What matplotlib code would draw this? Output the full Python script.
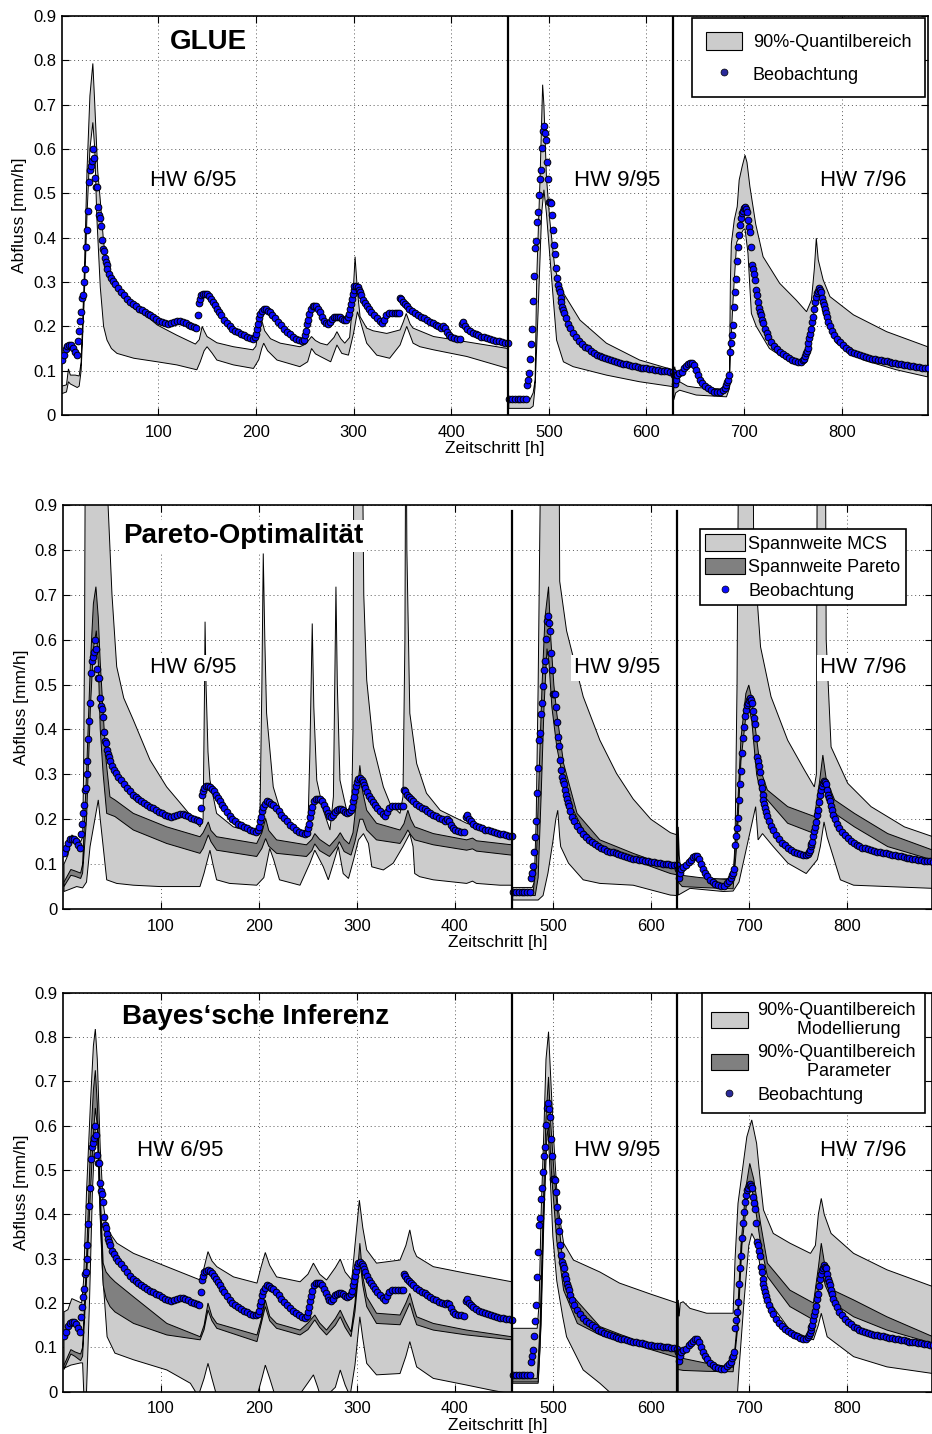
import numpy as np
import matplotlib
matplotlib.use("Agg")
import matplotlib.pyplot as plt
from matplotlib.patches import Patch
from matplotlib.lines import Line2D

plt.rcParams['font.family'] = ['Liberation Sans', 'DejaVu Sans']

# ---------------- observations (Zeitschritt, Abfluss) ----------------
obs = [
    (1, .125), (3, .135), (5, .148), (7, .155), (9, .157), (11, .157), (13, .152), (15, .143), (17, .135),
    (18, .168), (19, .19), (20, .213), (21, .232), (22, .265), (23, .27), (24, .30), (25, .33), (26, .378),
    (27, .418), (28, .46), (29, .525), (30, .553), (31, .562), (32, .572), (33, .60), (34, .58), (35, .535),
    (36, .515), (37, .515), (38, .47), (39, .452), (40, .445), (41, .427), (42, .395), (43, .375), (44, .37),
    (45, .355), (46, .345), (47, .338), (48, .33), (50, .318), (52, .31), (54, .302), (56, .295), (59, .287),
    (62, .278), (65, .27), (68, .262), (71, .255), (74, .25), (77, .245), (80, .24), (83, .236), (86, .232),
    (89, .228), (92, .225), (95, .221), (98, .217), (101, .213), (104, .21), (107, .207), (110, .205),
    (113, .207), (116, .21), (119, .211), (122, .211), (125, .21), (128, .207), (131, .203), (134, .2),
    (137, .198), (139, .196), (141, .225), (142, .253), (143, .262), (144, .27), (146, .273), (148, .274),
    (150, .272), (152, .268), (154, .262), (156, .255), (158, .247), (160, .24), (162, .232), (164, .225),
    (167, .215), (170, .207), (173, .2), (176, .195), (179, .19), (182, .187), (185, .183), (188, .18),
    (191, .176), (194, .173), (197, .172), (199, .175), (200, .183), (201, .195), (202, .205), (203, .218),
    (204, .228), (206, .235), (208, .24), (210, .238), (212, .235), (214, .232), (217, .226), (220, .218),
    (223, .21), (226, .202), (229, .195), (232, .188), (235, .182), (238, .177), (241, .172), (244, .169),
    (247, .167), (249, .17), (250, .18), (251, .19), (252, .205), (253, .215), (254, .228), (256, .24),
    (258, .245), (260, .246), (262, .245), (264, .24), (266, .232), (268, .222), (270, .213), (272, .207),
    (274, .205), (276, .21), (278, .217), (280, .22), (282, .222), (284, .222), (286, .22), (288, .216),
    (290, .214), (292, .215), (294, .22), (295, .228), (296, .24), (297, .25), (298, .262), (299, .273),
    (300, .283), (301, .29), (303, .292), (305, .288), (306, .283), (307, .277), (308, .27), (310, .26),
    (312, .252), (314, .245), (316, .238), (318, .232), (321, .225), (324, .218), (327, .211), (329, .207),
    (331, .215), (333, .225), (336, .229), (339, .23), (342, .23), (345, .23), (347, .23), (348, .265),
    (349, .262), (351, .255), (353, .25), (355, .245), (357, .24), (360, .235), (363, .23), (366, .226),
    (369, .222), (372, .218), (375, .214), (378, .21), (381, .207), (384, .203), (387, .2), (390, .197),
    (392, .2), (394, .197), (396, .188), (398, .18), (400, .176), (403, .173), (406, .172), (409, .171),
    (411, .205), (412, .21), (414, .2), (416, .195), (419, .19), (422, .186), (425, .183), (428, .18),
    (431, .177), (434, .175), (437, .173), (440, .171), (443, .169), (446, .167), (449, .166), (452, .165),
    (455, .163), (458, .162),
    (459, .037), (462, .037), (465, .037), (468, .037), (471, .037), (474, .037), (477, .037), (478, .068),
    (479, .08), (480, .095), (481, .126), (482, .16), (483, .195), (484, .258), (485, .314), (486, .377),
    (487, .392), (488, .435), (489, .459), (490, .496), (491, .532), (492, .553), (493, .602), (494, .641),
    (495, .652), (496, .637), (497, .62), (498, .571), (499, .532), (500, .48), (501, .48), (502, .478),
    (503, .451), (504, .417), (505, .384), (506, .363), (507, .332), (508, .309), (509, .293), (510, .285),
    (511, .278), (512, .264), (513, .254), (514, .244), (515, .237), (516, .23), (518, .219), (520, .206),
    (522, .196), (525, .184), (528, .175), (531, .167), (534, .16), (537, .154), (540, .15), (543, .145),
    (546, .14), (549, .136), (552, .133), (555, .13), (558, .128), (561, .126), (564, .124), (567, .122),
    (570, .12), (573, .118), (576, .116), (579, .114), (582, .112), (585, .111), (588, .11), (591, .109),
    (594, .107), (597, .106), (600, .105), (603, .104), (606, .103), (609, .102), (612, .101), (615, .1),
    (618, .1), (621, .099), (624, .098), (627, .097),
    (628, .09), (629, .07), (630, .08), (631, .09), (633, .094), (636, .097), (639, .105), (641, .11),
    (643, .115), (645, .118), (647, .118), (649, .112), (651, .101), (653, .09), (655, .08), (657, .073),
    (660, .065), (663, .06), (666, .056), (669, .053), (672, .051), (675, .052), (678, .057), (680, .062),
    (682, .068), (683, .075), (684, .08), (685, .09), (686, .143), (687, .162), (688, .18), (689, .203),
    (690, .243), (691, .278), (692, .307), (693, .347), (694, .38), (695, .406), (696, .429), (697, .444),
    (698, .455), (699, .46), (700, .466), (701, .469), (702, .465), (703, .459), (704, .44), (705, .425),
    (706, .413), (707, .38), (708, .338), (709, .33), (710, .318), (711, .305), (712, .282), (713, .27),
    (714, .255), (715, .242), (716, .233), (717, .226), (718, .215), (719, .207), (721, .195), (723, .184),
    (725, .176), (728, .165), (731, .155), (734, .148), (737, .142), (740, .137), (743, .132), (746, .128),
    (749, .125), (752, .122), (755, .12), (758, .12), (760, .123), (761, .127), (762, .132), (763, .14),
    (764, .145), (765, .15), (766, .162), (767, .173), (768, .183), (769, .193), (770, .21), (771, .22),
    (772, .238), (773, .255), (774, .266), (775, .275), (776, .28), (777, .286), (778, .282), (779, .278),
    (780, .265), (781, .255), (782, .248), (783, .24), (784, .23), (785, .22), (786, .21), (788, .2),
    (790, .19), (792, .18), (795, .172), (798, .164), (801, .158), (804, .152), (807, .147), (810, .143),
    (813, .14), (816, .137), (819, .135), (822, .133), (825, .131), (828, .129), (831, .127), (834, .126),
    (837, .125), (840, .124), (843, .122), (846, .121), (849, .12), (852, .118), (855, .117), (858, .116),
    (861, .114), (864, .113), (867, .112), (870, .111), (873, .11), (876, .109), (879, .108), (882, .107),
    (885, .106), (888, .105),
]

# ---------------- GLUE: 90%-Quantilbereich ----------------
glue_hi = [
    (1, .065), (6, .068), (8, .104), (10, .09), (15, .09), (19, .088), (21, .12), (24, .3), (27, .55), (30, .72),
    (33, .793), (35, .7), (38, .55), (40.6, .485), (44, .39), (47.5, .335), (51, .305), (61, .275), (68, .26),
    (75, .24), (85, .229), (99, .203), (119, .18), (138, .16), (142, .17), (145, .2), (147, .19), (150, .177),
    (160, .163), (177, .154), (197, .147), (200, .155), (203, .195), (206, .214), (209, .19), (215, .172),
    (225, .162), (245, .154), (251, .16), (257, .177), (261, .168), (266, .162), (273, .158), (280, .175),
    (283, .188), (287, .172), (291, .162), (296, .175), (299, .25), (301.6, .357), (304, .28), (306.7, .222),
    (313.5, .196), (320, .19), (334, .184), (347.7, .192), (351, .21), (354, .229), (358, .205), (361, .196),
    (382, .177), (416, .165), (458, .15),
    (459, .034), (478, .034), (481, .036), (484, .05), (486, .079), (487.6, .305), (489, .4), (491, .53),
    (493.7, .745), (495, .7), (497.6, .537), (501, .44), (506, .335), (510, .3), (515, .275), (532, .214),
    (559, .162), (593, .124), (627, .102),
    (628, .098), (629, .109), (631, .08), (634, .075), (642, .065), (651, .062), (682, .058), (685, .07),
    (686, .3), (687, .387), (690, .44), (693, .47), (695, .53), (698, .56), (701, .586), (703, .57), (706, .515),
    (712, .43), (719.5, .357), (736.5, .297), (753.5, .259), (764, .233), (769, .259), (772, .33), (774, .399),
    (776, .35), (781, .305), (788, .267), (812, .226), (846, .188), (888, .154),
]
glue_lo = [
    (1, .048), (6, .052), (8, .075), (10, .07), (17, .062), (19, .065), (21, .1), (24, .25), (27, .45), (30, .6),
    (33, .66), (35, .6), (37, .45), (40.6, .289), (44, .2), (47.5, .169), (52, .15), (57.7, .139), (75, .128),
    (99, .12), (119, .113), (139.5, .102), (143, .12), (147, .145), (150, .154), (155, .14), (160, .124),
    (177, .113), (197.5, .105), (203, .125), (206, .15), (208, .162), (212, .145), (221.6, .124), (245, .109),
    (253, .12), (257, .15), (261, .138), (266, .132), (276.6, .12), (283, .158), (288, .139), (294.8, .135),
    (300, .184), (304, .233), (306.7, .214), (313.5, .162), (323.8, .135), (337, .128), (347.7, .158),
    (354.5, .2), (361, .162), (368, .154), (382, .147), (416, .132), (458, .105),
    (459, .015), (481, .015), (484, .02), (486, .064), (489, .23), (492.7, .455), (495, .508), (497.6, .455),
    (503, .305), (508, .169), (515, .12), (525, .109), (559, .09), (593, .075), (627, .064),
    (628, .034), (630, .05), (634, .056), (651, .045), (682, .041), (685, .06), (686, .139), (689, .27),
    (692.5, .39), (699, .417), (701, .42), (704, .365), (707.5, .229), (712.5, .2), (726, .15), (747, .12),
    (760.5, .117), (767, .15), (772, .24), (776, .282), (778, .27), (781, .229), (794.5, .162), (822, .124),
    (856, .102), (888, .086),
]

# ---------------- Pareto: Spannweite MCS / Spannweite Pareto ----------------
mcs_hi = [
    (1, .1), (5, .12), (9, .165), (12, .16), (18, .15), (20, .16), (21, .3), (22, .6), (23, 1.2), (45, 1.2),
    (46, .9), (50, .7), (54.8, .54), (62, .47), (71.8, .421), (88.8, .332), (105.8, .272), (122.8, .228),
    (139.8, .183), (143, .2), (144.5, .5), (145, .64), (146, .5), (148, .35), (150, .287), (156.8, .213),
    (173.8, .183), (197.7, .168), (201, .2), (203, .5), (204.4, .792), (206, .6), (207.8, .436), (214.6, .272),
    (224.8, .198), (241.9, .168), (250, .18), (252, .35), (254.4, .636), (256, .45), (259, .287), (265.7, .22),
    (272.5, .176), (276, .25), (278.6, .718), (280, .5), (282.7, .287), (289.5, .22), (294.6, .213), (296, .4),
    (297, 1.2), (305, 1.2), (307, .7), (310, .51), (316.8, .362), (327, .272), (333.8, .235), (344, .213),
    (347, .25), (349, .6), (350, 1.2), (351, .8), (354, .436), (361, .324), (371, .258), (385, .22),
    (412, .191), (433, .176), (458, .165),
    (459, .048), (479, .048), (481, .06), (483, .2), (485, .5), (487, .9), (488, 1.2), (506, 1.2), (507, .73),
    (514, .62), (531, .473), (548, .376), (565, .302), (582, .245), (600, .2), (620, .17), (627, .165),
    (628, .183), (629, .12), (631, .07), (633, .065), (656.7, .065), (684, .068), (686, .15), (688, .5),
    (690, 1.2), (704, 1.2), (705, .8), (712, .584), (722.7, .473), (739.7, .376), (756.7, .31), (766.9, .272),
    (769, .3), (770, 1.2), (778, 1.2), (779, .6), (784, .361), (801, .28), (824.8, .228), (858.8, .183),
    (888, .161),
]
mcs_lo = [
    (1, .039), (14, .05), (20, .047), (24, .06), (27.6, .139), (36, .243), (38, .2), (41, .139), (44.6, .065),
    (54.8, .057), (71.8, .053), (99, .05), (139.8, .05), (144, .08), (150, .131), (153, .1), (156.8, .065),
    (170, .057), (197.7, .053), (205, .07), (211, .135), (215, .11), (221, .065), (241.9, .053), (252, .102),
    (257, .131), (265.7, .094), (270.8, .065), (276, .102), (281, .139), (286, .079), (291.4, .068),
    (296.5, .109), (301.6, .154), (306.7, .168), (311.8, .146), (315.2, .094), (327, .087), (337, .102),
    (347, .139), (354, .168), (357.3, .139), (359, .079), (364, .072), (378, .065), (412, .057), (418, .062),
    (422, .057), (446, .053), (458, .053),
    (459, .02), (485, .02), (490, .03), (495, .08), (500, .15), (503, .2), (505, .22), (507, .16), (508, .139),
    (516, .102), (531, .065), (548, .057), (582, .053), (620, .031), (627, .03),
    (628, .031), (640, .046), (674, .039), (684, .04), (690, .06), (698, .139), (707, .228), (709.5, .154),
    (714, .168), (725, .139), (740, .102), (758.6, .079), (770, .11), (773, .139), (776.8, .194), (780, .16),
    (783, .139), (793.5, .065), (807, .053), (888, .046),
]
pareto_hi = [
    (1, .06), (8, .088), (12, .085), (18, .08), (20, .1), (24, .3), (28, .55), (31, .68), (33.6, .718), (36, .65),
    (38, .55), (41, .436), (44, .33), (47.9, .25), (53, .243), (71.8, .213), (105.8, .183), (139.8, .161),
    (143, .17), (148.3, .194), (151, .175), (156.8, .161), (197.7, .146), (203, .17), (206.8, .202), (210, .175),
    (218, .154), (248.5, .143), (254, .155), (257, .168), (262, .155), (272, .14), (280, .16), (283, .17),
    (287, .155), (292, .145), (296, .17), (300, .25), (303, .32), (306, .26), (310, .22), (320, .191),
    (344, .176), (348, .19), (352, .22), (355, .2), (359, .183), (378, .168), (412, .154), (418, .158),
    (422, .152), (458, .143),
    (459, .04), (480, .04), (483, .1), (486, .3), (489, .5), (492, .65), (495.6, .718), (498, .6), (501, .5),
    (504, .436), (511, .324), (524.7, .213), (548, .154), (582, .124), (620, .094), (627, .09),
    (628, .09), (632, .075), (650, .07), (684, .065), (688, .2), (692, .38), (697, .48), (700, .499), (703, .47),
    (708, .38), (712, .31), (719, .265), (739.7, .228), (767, .206), (772, .28), (775.6, .343), (779, .29),
    (787.6, .243), (807.8, .213), (841.8, .168), (888, .131),
]
pareto_lo = [
    (1, .05), (8, .075), (12, .073), (18, .068), (20, .08), (24, .2), (28, .45), (31, .58), (34, .62), (36, .55),
    (38, .4), (41, .3), (44.6, .213), (53, .206), (71.8, .176), (105.8, .146), (139.8, .124), (143, .135),
    (148.3, .165), (151, .15), (156.8, .131), (197.7, .117), (203, .135), (206.8, .157), (210, .14), (218, .124),
    (248.5, .117), (254, .13), (257, .145), (262, .13), (272, .117), (280, .14), (282, .15), (287, .128),
    (294, .12), (298, .15), (303, .2), (306, .2), (310, .176), (320, .154), (344, .146), (348, .16), (352, .176),
    (355, .165), (359, .154), (378, .143), (412, .131), (418, .134), (422, .129), (458, .12),
    (459, .03), (482, .03), (485, .07), (488, .25), (491, .45), (494, .58), (496, .55), (499, .45), (504, .361),
    (514, .25), (531, .176), (548, .139), (582, .109), (620, .079), (627, .076),
    (628, .06), (632, .05), (650, .048), (684, .045), (688, .15), (692, .33), (697, .43), (700, .45), (703, .42),
    (708, .3), (712, .26), (719, .243), (739.7, .191), (767, .168), (772, .23), (777.7, .287), (781, .25),
    (787.6, .213), (807.8, .183), (841.8, .139), (888, .109),
]

# ---------------- Bayes: Modellierung / Parameter ----------------
bay_hi = [
    (1, .18), (5, .185), (9, .21), (14, .205), (19, .2), (21, .25), (24, .45), (28, .65), (31, .78), (33, .818),
    (35, .75), (38, .55), (41, .425), (44, .38), (48, .357), (55, .335), (72, .312), (106, .282), (140, .252),
    (144, .28), (148, .316), (152, .295), (157, .282), (174, .259), (198, .245), (202, .28), (206.5, .314),
    (211, .285), (218, .259), (242, .248), (250, .265), (255.6, .29), (262, .265), (269, .252), (278, .28),
    (283, .299), (288, .27), (294.7, .252), (298, .33), (302.5, .432), (306, .37), (310, .32), (320, .29),
    (344, .297), (350, .33), (354, .365), (358, .32), (361, .305), (378, .282), (412, .267), (458, .248),
    (459, .143), (484, .143), (486, .2), (488, .4), (491, .6), (493, .75), (495.6, .812), (498, .7), (500.7, .575),
    (505, .42), (511, .335), (521, .297), (548, .27), (568, .245), (600, .22), (627, .2),
    (628, .207), (629, .17), (630, .2), (633, .203), (640, .188), (657, .177), (684, .177), (686, .3), (689, .425),
    (698, .575), (703, .613), (708, .56), (712, .47), (715, .41), (725, .357), (742, .335), (763, .312),
    (768, .33), (771, .4), (774, .436), (777, .4), (784, .357), (807, .312), (841, .275), (888, .237),
]
bay_lo = [
    (1, .053), (8, .06), (18, .065), (20, .065), (21.5, -.02), (24, 0.0), (27, .2), (30, .45), (33, .6), (35, .6),
    (37, .45), (40, .28), (45, .124), (53, .087), (72, .072), (106, .049), (130, .019), (138, -.01), (144, .03),
    (148, .064), (152, .03), (157, -.01), (198, -.01), (203, .03), (206.5, .06), (211, .03), (218, -.02),
    (236, -.01), (242, -.005), (250, .02), (255.6, .038), (260, .01), (264, -.02), (278, .01), (283, .049),
    (288, .015), (293, -.01), (298, .06), (303, .169), (306, .12), (310, .064), (320, .038), (344, .041),
    (350, .08), (354, .113), (358, .08), (361, .056), (378, .03), (412, .015), (436, .004), (458, -.005),
    (459, .019), (485, .019), (487, .1), (490, .35), (493, .55), (495, .6), (497, .5), (500, .35), (504, .25),
    (510, .17), (514, .124), (531, .049), (548, .019), (560, -.005), (627, -.02),
    (628, -.02), (688, -.02), (690, .05), (695, .2), (700, .33), (703, .357), (708, .335), (712, .275),
    (722, .2), (742, .139), (766, .117), (771, .15), (774, .177), (777, .15), (780, .124), (807, .079),
    (841, .056), (888, .041),
]
par_hi = [
    (1, .06), (8, .095), (12, .09), (18, .085), (20, .1), (24, .3), (28, .55), (31, .68), (33, .725), (35, .65),
    (38, .45), (41, .29), (44, .27), (48, .259), (53, .248), (72, .214), (106, .154), (140, .124), (144, .15),
    (148, .2), (152, .17), (157, .154), (198, .128), (202, .16), (206.5, .207), (211, .17), (218, .154),
    (242, .139), (250, .155), (257, .173), (262, .155), (269, .139), (278, .165), (283, .184), (288, .16),
    (294, .135), (298, .2), (303, .335), (306, .26), (310, .214), (320, .177), (344, .173), (350, .2),
    (354, .222), (358, .19), (361, .169), (378, .154), (412, .139), (458, .124),
    (459, .03), (484, .03), (487, .15), (490, .4), (493, .62), (495.6, .71), (498, .6), (501, .5), (504, .425),
    (511, .275), (521, .214), (548, .147), (582, .118), (627, .092),
    (628, .08), (633, .075), (657, .064), (684, .055), (688, .15), (692, .33), (697, .46), (701, .515),
    (705, .48), (712, .38), (719, .29), (742, .229), (766, .2), (771, .28), (774, .335), (778, .28), (786, .229),
    (807, .207), (841, .169), (888, .124),
]
par_lo = [
    (1, .05), (8, .085), (12, .08), (18, .07), (20, .08), (24, .25), (28, .45), (31, .58), (33, .64), (35, .6),
    (38, .4), (41, .24), (44, .21), (48, .192), (53, .18), (72, .154), (106, .128), (140, .117), (144, .14),
    (148, .184), (152, .16), (157, .143), (198, .113), (202, .15), (206.5, .192), (211, .16), (218, .143),
    (242, .128), (250, .14), (257, .162), (262, .145), (269, .128), (278, .15), (283, .169), (288, .145),
    (294, .124), (298, .18), (303, .297), (306, .24), (310, .192), (320, .154), (344, .151), (350, .18),
    (354, .2), (358, .17), (361, .151), (378, .139), (412, .128), (458, .117),
    (459, .022), (485, .022), (488, .15), (491, .4), (494, .58), (496, .6), (499, .48), (504, .34), (511, .229),
    (525, .154), (548, .128), (582, .107), (627, .077),
    (628, .05), (633, .048), (657, .046), (684, .045), (689, .15), (693, .33), (698, .43), (701, .47), (705, .44),
    (712, .335), (719, .26), (742, .192), (766, .162), (771, .23), (774, .282), (778, .24), (786, .2),
    (807, .169), (841, .139), (888, .109),
]

events = [(0, 458.5), (458.5, 627.5), (627.5, 900)]
event_lines = [458.6, 627.0]
hw_labels = ['HW 6/95', 'HW 9/95', 'HW 7/96']

LIGHT = '#cccccc'
DARK = '#808080'


def draw_band(ax, upper, lower, color):
    up = np.array(upper)
    lo = np.array(lower)
    for a, b in events:
        u = up[(up[:, 0] > a) & (up[:, 0] <= b)]
        l = lo[(lo[:, 0] > a) & (lo[:, 0] <= b)]
        xs = np.concatenate([u[:, 0], l[::-1, 0]])
        ys = np.concatenate([u[:, 1], l[::-1, 1]])
        ax.fill(xs, ys, facecolor=color, edgecolor='black', linewidth=0.7, zorder=2)


def style_axes(ax, xlim):
    ax.set_xlim(*xlim)
    ax.set_ylim(0, 0.9)
    ax.set_xticks([100, 200, 300, 400, 500, 600, 700, 800])
    ax.set_yticks(np.arange(0, 0.91, 0.1))
    ax.set_yticklabels(['0', '0.1', '0.2', '0.3', '0.4', '0.5', '0.6', '0.7', '0.8', '0.9'])
    ax.tick_params(direction='in', length=5, width=0.8, top=True, right=True, labelsize=12)
    ax.tick_params(axis='x', pad=7)
    ax.tick_params(axis='y', pad=4)
    ax.grid(True, linestyle=(0, (1, 3)), color='0.35', linewidth=0.7)
    ax.set_axisbelow(True)
    for s in ax.spines.values():
        s.set_linewidth(1.2)
    ax.set_xlabel('Zeitschritt [h]', fontsize=12.5, labelpad=1)
    ax.set_ylabel('Abfluss [mm/h]', fontsize=12.5, labelpad=4)


def draw_obs(ax):
    o = np.array(obs)
    ax.plot(o[:, 0], o[:, 1], 'o', ls='none', mfc='#0a0aff', mec='black', mew=0.7, ms=4.8, zorder=4)


fig = plt.figure(figsize=(9.32, 14.34), dpi=100)
W, H = 932.0, 1434.0

# ---------------- panel 1: GLUE ----------------
ax1 = fig.add_axes([61.6 / W, (H - 415) / H, 866 / W, 399 / H])
style_axes(ax1, (1, 888))
draw_band(ax1, glue_hi, glue_lo, LIGHT)
draw_obs(ax1)
for x in event_lines:
    ax1.axvline(x, color='black', lw=1.6, zorder=5)
ax1.text(151, 0.841, 'GLUE', fontsize=20, fontweight='bold', ha='center', va='center', zorder=6)
for t, lab in zip([135.5, 570, 822], hw_labels):
    ax1.text(t, 0.53, lab, fontsize=16, ha='center', va='center', zorder=6)
h1 = [Patch(facecolor=LIGHT, edgecolor='black', linewidth=0.8),
      Line2D([], [], marker='o', ls='none', mfc='#2a2a9a', mec='black', mew=0.5, ms=5)]
leg1 = ax1.legend(h1, ['90%-Quantilbereich', 'Beobachtung'], loc='upper right',
                  bbox_to_anchor=((925 - 61.6) / 866, (415 - 18) / 399), fontsize=13,
                  fancybox=False, edgecolor='black', framealpha=1, borderaxespad=0.0,
                  handlelength=2.0, handleheight=1.2, labelspacing=0.75, borderpad=0.75,
                  handletextpad=0.6)
leg1.get_frame().set_linewidth(1.2)
leg1.set_zorder(7)

# ---------------- panel 2: Pareto ----------------
ax2 = fig.add_axes([63.3 / W, (H - 909) / H, 868.2 / W, 404 / H])
style_axes(ax2, (0.3, 886.5))
draw_band(ax2, mcs_hi, mcs_lo, LIGHT)
draw_band(ax2, pareto_hi, pareto_lo, DARK)
draw_obs(ax2)
for x in event_lines:
    ax2.axvline(x, ymax=0.985, color='black', lw=1.6, zorder=5)
bb = dict(boxstyle='square,pad=0.12', facecolor='white', edgecolor='none')
ax2.text(184.2, 0.831, 'Pareto-Optimalität', fontsize=20, fontweight='bold', ha='center', va='center',
         zorder=6, bbox=bb)
for t, lab in zip([132.7, 565.5, 816.6], hw_labels):
    ax2.text(t, 0.537, lab, fontsize=16, ha='center', va='center', zorder=6, bbox=bb)
h2 = [Patch(facecolor=LIGHT, edgecolor='black', linewidth=0.8),
      Patch(facecolor=DARK, edgecolor='black', linewidth=0.8),
      Line2D([], [], marker='o', ls='none', mfc='#0a0aff', mec='black', mew=0.5, ms=5)]
leg2 = ax2.legend(h2, ['Spannweite MCS', 'Spannweite Pareto', 'Beobachtung'], loc='upper right',
                  bbox_to_anchor=(0.9706, 0.9406), fontsize=13, fancybox=False, edgecolor='black',
                  framealpha=1, borderaxespad=0.0, handlelength=2.2, handleheight=1.0,
                  labelspacing=0.3, borderpad=0.3, handletextpad=0.2)
leg2.get_frame().set_linewidth(1.2)
leg2.set_zorder(7)

# ---------------- panel 3: Bayes ----------------
ax3 = fig.add_axes([63.3 / W, (H - 1391.7) / H, 868.2 / W, 399 / H])
style_axes(ax3, (0.3, 886.5))
draw_band(ax3, bay_hi, bay_lo, LIGHT)
draw_band(ax3, par_hi, par_lo, DARK)
draw_obs(ax3)
for x in event_lines:
    ax3.axvline(x, color='black', lw=1.6, zorder=5)
ax3.text(197, 0.845, 'Bayes\u2018sche Inferenz', fontsize=20, fontweight='bold', ha='center', va='center',
         zorder=6)
for t, lab in zip([119.4, 565.5, 816.6], hw_labels):
    ax3.text(t, 0.543, lab, fontsize=16, ha='center', va='center', zorder=6)
h3 = [Patch(facecolor=LIGHT, edgecolor='black', linewidth=0.8),
      Patch(facecolor=DARK, edgecolor='black', linewidth=0.8),
      Line2D([], [], marker='o', ls='none', mfc='#2a2a9a', mec='black', mew=0.5, ms=5)]
leg3 = ax3.legend(h3, ['90%-Quantilbereich\n        Modellierung', '90%-Quantilbereich\n          Parameter',
                       'Beobachtung'], loc='upper right',
                  bbox_to_anchor=((925 - 63.3) / 868.2, 1.0), fontsize=13, fancybox=False,
                  edgecolor='black', framealpha=1, borderaxespad=0.0, handlelength=2.0,
                  handleheight=1.0, labelspacing=0.3, borderpad=0.5, handletextpad=0.55)
leg3.get_frame().set_linewidth(1.2)
leg3.set_zorder(7)

fig.savefig('out.png', dpi=100)
